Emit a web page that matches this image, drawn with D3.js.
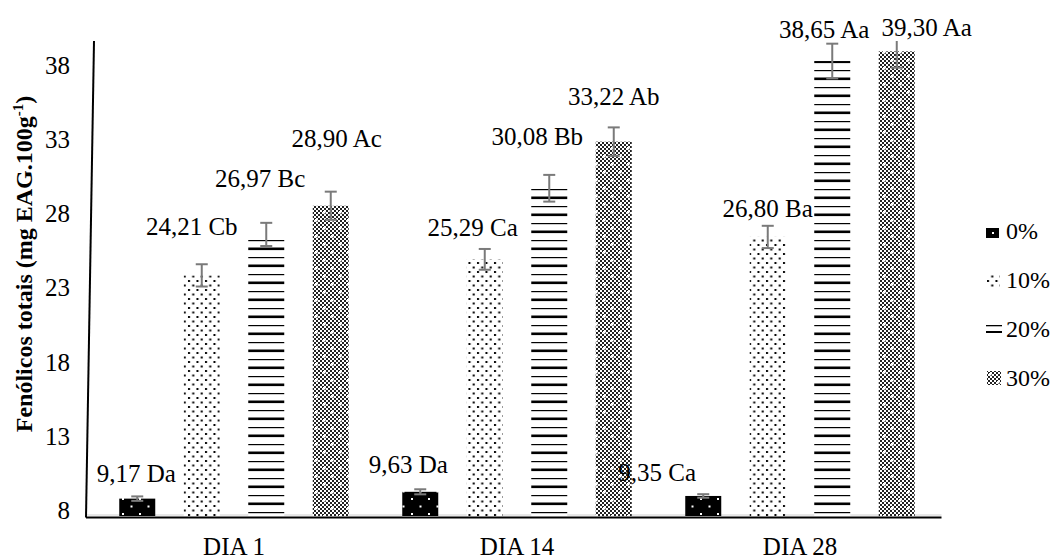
<!DOCTYPE html>
<html>
<head>
<meta charset="utf-8">
<script src="https://cdn.jsdelivr.net/npm/d3@7"></script>
<style>
  body { margin: 0; background: #fff; }
  svg text { font-family: "Liberation Serif", "Times New Roman", Times, serif; fill: #000; }
</style>
</head>
<body>
<svg id="chart" width="1054" height="559" font-family="Liberation Serif"></svg>
<script>
const days = ["DIA 1", "DIA 14", "DIA 28"];
const levels = ["0%", "10%", "20%", "30%"];
// values per day, one per level
const values = [
  [9.17, 24.21, 26.97, 28.90],
  [9.63, 25.29, 30.08, 33.22],
  [9.35, 26.80, 38.65, 39.30]
];
const errors = [
  [0.15, 0.75, 0.78, 0.95],
  [0.17, 0.70, 0.90, 0.96],
  [0.12, 0.75, 1.17, 1.10]
];
const letters = [
  ["Da", "Cb", "Bc", "Ac"],
  ["Da", "Ca", "Bb", "Ab"],
  ["Ca", "Ba", "Aa", "Aa"]
];
const yTicks = [8, 13, 18, 23, 28, 33, 38];

// labels were moved by hand in the original, keep the nudges [dx, dy]
const labelNudge = [
  [[-1, -17], [-10, -40], [-6, -47], [6, -59]],
  [[-12, -19], [-12, -23], [-12, -43], [0, -37]],
  [[-46, -15], [0, -20], [-8, -23], [30, -15]]
];

const serif = '"Liberation Serif", "Times New Roman", Times, serif';

const svg = d3.select("#chart");
const defs = svg.append("defs");

// fill patterns
let p0 = defs.append("pattern").attr("id", "p0").attr("patternUnits", "userSpaceOnUse")
  .attr("width", 17).attr("height", 15);
p0.append("rect").attr("width", 17).attr("height", 15).attr("fill", "#000");
p0.append("rect").attr("x", 3).attr("y", 3).attr("width", 2).attr("height", 2).attr("fill", "#fff");
p0.append("rect").attr("x", 11.5).attr("y", 10.5).attr("width", 2).attr("height", 2).attr("fill", "#fff");

let p1 = defs.append("pattern").attr("id", "p1").attr("patternUnits", "userSpaceOnUse")
  .attr("width", 8.5).attr("height", 9);
p1.append("rect").attr("width", 8.5).attr("height", 9).attr("fill", "#fff");
p1.append("rect").attr("x", 1).attr("y", 1).attr("width", 2).attr("height", 2).attr("fill", "#000");
p1.append("rect").attr("x", 5.25).attr("y", 5.5).attr("width", 2).attr("height", 2).attr("fill", "#000");

let p2 = defs.append("pattern").attr("id", "p2").attr("patternUnits", "userSpaceOnUse")
  .attr("width", 36).attr("height", 17);
p2.append("rect").attr("width", 36).attr("height", 17).attr("fill", "#fff");
p2.append("rect").attr("x", 0).attr("y", 2).attr("width", 36).attr("height", 1.2).attr("fill", "#000");
p2.append("rect").attr("x", 0).attr("y", 9.5).attr("width", 36).attr("height", 2.6).attr("fill", "#000");

let p3 = defs.append("pattern").attr("id", "p3").attr("patternUnits", "userSpaceOnUse")
  .attr("width", 16).attr("height", 16);
p3.append("rect").attr("width", 16).attr("height", 16).attr("fill", "#fff");
for (let i = 0; i < 8; i++) {
  for (let j = 0; j < 8; j++) {
    if ((i + j) % 2 === 0) {
      p3.append("rect").attr("x", i * 2).attr("y", j * 2).attr("width", 2).attr("height", 2).attr("fill", "#222");
    }
  }
}
p3.append("rect").attr("x", 3).attr("y", 3).attr("width", 2.5).attr("height", 2.5).attr("fill", "#fff");
p3.append("rect").attr("x", 11).attr("y", 11).attr("width", 2.5).attr("height", 2.5).attr("fill", "#fff");

const fills = ["url(#p0)", "url(#p1)", "url(#p2)", "url(#p3)"];

// scales
let x0 = d3.scaleBand().domain(days).range([92.5, 941.5]);
let x1 = d3.scaleBand().domain(levels).range([12.5, 270.5]).paddingInner(0.442).paddingOuter(0.221);
let y = d3.scaleLinear().domain([8, 40]).range([516, 41]);

svg.append("clipPath").attr("id", "plotClip")
  .append("rect").attr("x", 80).attr("y", y(40)).attr("width", 880).attr("height", y(8) - y(40) + 5);

// light line just above the axis
svg.append("line")
  .attr("x1", 87).attr("x2", x0.range()[1])
  .attr("y1", y(8) - 1).attr("y2", y(8) - 1)
  .attr("stroke", "#d0d0d0").attr("stroke-width", 1);

let rows = [];
days.forEach((d, i) => levels.forEach((l, j) => rows.push({
  day: d, level: l, i: i, j: j, v: values[i][j], e: errors[i][j], tag: letters[i][j]
})));

let g = svg.append("g");

g.selectAll("rect.bar")
  .data(rows)
  .enter()
  .append("rect")
  .attr("class", "bar")
  .attr("x", d => x0(d.day) + x1(d.level))
  .attr("y", d => y(d.v))
  .attr("width", x1.bandwidth())
  .attr("height", d => y(8) - y(d.v))
  .style("fill", d => fills[d.j]);

// error bars
let err = svg.append("g").attr("clip-path", "url(#plotClip)")
  .attr("stroke", "#7a7a7a").attr("stroke-width", 2);
let cx = d => x0(d.day) + x1(d.level) + x1.bandwidth() / 2;
err.selectAll("line.stem").data(rows).enter().append("line")
  .attr("x1", cx).attr("x2", cx)
  .attr("y1", d => y(d.v + d.e)).attr("y2", d => y(d.v - d.e));
err.selectAll("line.top").data(rows).enter().append("line")
  .attr("x1", d => cx(d) - 6).attr("x2", d => cx(d) + 6)
  .attr("y1", d => y(d.v + d.e)).attr("y2", d => y(d.v + d.e));
err.selectAll("line.bot").data(rows).enter().append("line")
  .attr("x1", d => cx(d) - 6).attr("x2", d => cx(d) + 6)
  .attr("y1", d => y(d.v - d.e)).attr("y2", d => y(d.v - d.e));

// data labels
let fmt = d3.format(".2f");
svg.append("g").selectAll("text")
  .data(rows)
  .enter()
  .append("text")
  .attr("x", d => cx(d) + labelNudge[d.i][d.j][0])
  .attr("y", d => y(d.v) + labelNudge[d.i][d.j][1])
  .attr("text-anchor", "middle")
  .style("font-family", serif)
  .style("font-size", "25px")
  .text(d => fmt(d.v).replace(".", ",") + " " + d.tag);

// axes
svg.append("line")
  .attr("x1", 86).attr("y1", y(8) + 1.5)
  .attr("x2", 94).attr("y2", y(40))
  .attr("stroke", "#000").attr("stroke-width", 2);
svg.append("line")
  .attr("x1", 86).attr("x2", x0.range()[1])
  .attr("y1", y(8) + 1.5).attr("y2", y(8) + 1.5)
  .attr("stroke", "#000").attr("stroke-width", 2);

svg.append("g").selectAll("text")
  .data(yTicks)
  .enter()
  .append("text")
  .attr("x", 70)
  .attr("y", d => y(d) + 3)
  .attr("text-anchor", "end")
  .style("font-family", serif)
  .style("font-size", "25px")
  .text(d => d);

svg.append("g").selectAll("text")
  .data(days)
  .enter()
  .append("text")
  .attr("x", d => x0(d) + x0.bandwidth() / 2)
  .attr("y", 555)
  .attr("text-anchor", "middle")
  .style("font-family", serif)
  .style("font-size", "25px")
  .text(d => d);

let title = svg.append("text")
  .attr("transform", "translate(32," + 264 + ") rotate(-90)")
  .attr("text-anchor", "middle")
  .style("font-family", serif)
  .style("font-size", "24px")
  .style("font-weight", "bold");
title.append("tspan").text("Fenólicos totais (mg EAG.100g");
title.append("tspan").attr("dy", -9).style("font-size", "15px").text("-1");
title.append("tspan").attr("dy", 9).text(")");

// legend
let legend = svg.append("g").selectAll("g")
  .data(levels)
  .enter()
  .append("g")
  .attr("transform", (d, i) => "translate(986," + (239 + i * 49) + ")");

legend.each(function (d, i) {
  let s = d3.select(this);
  if (i === 0) {
    s.append("rect").attr("x", 0).attr("y", -11).attr("width", 13).attr("height", 10).attr("fill", "#000");
    s.append("rect").attr("x", 6).attr("y", -7).attr("width", 2).attr("height", 2).attr("fill", "#fff");
  } else if (i === 1) {
    s.append("rect").attr("x", 1).attr("y", -14).attr("width", 13).attr("height", 13).attr("fill", "url(#p1)");
  } else if (i === 2) {
    s.append("rect").attr("x", 0).attr("y", -12).attr("width", 16).attr("height", 1.3).attr("fill", "#000");
    s.append("rect").attr("x", 0).attr("y", -6).attr("width", 16).attr("height", 2).attr("fill", "#000");
  } else {
    s.append("rect").attr("x", 1).attr("y", -15).attr("width", 14).attr("height", 14).attr("fill", "url(#p3)");
  }
});

legend.append("text")
  .attr("x", 20)
  .attr("y", 0)
  .style("font-family", serif)
  .style("font-size", "24px")
  .text(d => d);
</script>
</body>
</html>
